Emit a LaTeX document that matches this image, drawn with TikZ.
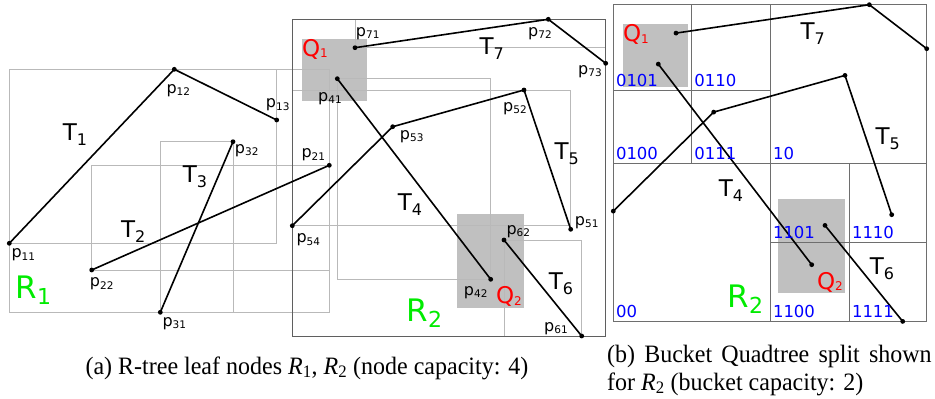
\documentclass[tikz,border=0pt]{standalone}
\usepackage{fontspec}
\setmainfont{Liberation Serif}
\newfontfamily\labfont{DejaVu Sans}
\usetikzlibrary{calc}
\definecolor{mbrgray}{RGB}{185,185,185}
\definecolor{rgray}{RGB}{95,95,95}
\definecolor{gridgray}{RGB}{110,110,110}
\definecolor{qgray}{RGB}{192,192,192}
\definecolor{rgreen}{RGB}{0,235,0}
\definecolor{bitblue}{RGB}{0,0,255}
\definecolor{qred}{RGB}{255,0,0}
\newcommand\Tl[1]{T\raisebox{-5pt}{\fontsize{16}{16}\selectfont #1}}
\newcommand\Pl[1]{p\raisebox{-2.2pt}{\fontsize{10.5}{10.5}\selectfont #1}}
\newcommand\Ql[1]{Q\raisebox{-1.5pt}{\fontsize{12}{12}\selectfont #1}}
\newcommand\Rl[1]{R\raisebox{-6pt}{\fontsize{22}{22}\selectfont #1}}
\newcommand\rtwocoords[1]{%
  \coordinate (#1p41) at (337.3,78.7);
  \coordinate (#1p42) at (490.7,279.3);
  \coordinate (#1p51) at (570.7,229.3);
  \coordinate (#1p52) at (524,90);
  \coordinate (#1p53) at (392.7,126.7);
  \coordinate (#1p54) at (292.3,225.7);
  \coordinate (#1p61) at (581.7,336);
  \coordinate (#1p62) at (504,240);
  \coordinate (#1p71) at (355,47.7);
  \coordinate (#1p72) at (548.3,19.3);
  \coordinate (#1p73) at (605.7,63.3);
  \coordinate (#1ra) at (292.3,19.3);
  \coordinate (#1rb) at (605.7,336);
}
\newcommand\rtwoqboxes[1]{%
  \fill[qgray] (302.3,38.7) rectangle (367,101.3);
  \fill[qgray] (457,214) rectangle (523.7,307.7);
}
\newcommand\rtwotraj[1]{%
  \draw[traj] (#1p41) -- (#1p42);
  \draw[traj] (#1p54) -- (#1p53) -- (#1p52) -- (#1p51);
  \draw[traj] (#1p62) -- (#1p61);
  \draw[traj] (#1p71) -- (#1p72) -- (#1p73);
  \foreach \p in {p41,p42,p51,p52,p53,p54,p61,p62,p71,p72,p73}
    \fill (#1\p) circle (2.4pt);
  \node[tlab] (#1T4) at (410,205) {\Tl{4}};
  \node[tlab] (#1T5) at (566.7,153.3) {\Tl{5}};
  \node[tlab] (#1T6) at (561,283.3) {\Tl{6}};
  \node[tlab] (#1T7) at (491.7,48.3) {\Tl{7}};
  \node[rlab] (#1R2) at (424.3,313.3) {\Rl{2}};
  \node[qlab] (#1Q1) at (315,49.3) {\Ql{1}};
  \node[qlab] (#1Q2) at (509,296.7) {\Ql{2}};
}
\begin{document}
\begin{tikzpicture}[x=1pt,y=-1pt,
  traj/.style={line width=1.6pt, line join=round, line cap=round},
  mbr/.style={draw=mbrgray, line width=0.8pt},
  rbox/.style={draw=rgray, line width=0.9pt},
  qgrid/.style={draw=gridgray, line width=0.9pt},
  tlab/.style={inner sep=0pt, font=\labfont\fontsize{23}{23}\selectfont},
  plab/.style={inner sep=0pt, font=\labfont\fontsize{16}{16}\selectfont},
  rlab/.style={inner sep=0pt, text=rgreen, font=\labfont\fontsize{31}{31}\selectfont},
  qlab/.style={inner sep=0pt, text=qred, font=\labfont\fontsize{23}{23}\selectfont},
  bitlab/.style={inner sep=0pt, anchor=base west, text=bitblue, font=\labfont\fontsize{16.5}{16.5}\selectfont},
  captext/.style={inner sep=0pt, font=\fontsize{25}{28}\selectfont}]
\useasboundingbox (0,0) rectangle (935,399);

% ---------- left: R1 ----------
\coordinate (p11) at (9.3,243.3);
\coordinate (p12) at (174.3,69.3);
\coordinate (p13) at (276.7,120);
\coordinate (p21) at (329.3,165.3);
\coordinate (p22) at (91.7,270);
\coordinate (p31) at (160.3,312.3);
\coordinate (p32) at (233,141.7);
\rtwocoords{}

% query boxes (middle)
\rtwoqboxes{}

% MBRs
\draw[mbr] (p11 |- p12) rectangle (p13 |- p11);
\draw[mbr] (p22 |- p21) rectangle (p21 |- p22);
\draw[mbr] (p31 |- p32) rectangle (p32 |- p31);
\draw[mbr] (p11 |- p12) rectangle (p21 |- p31);
\draw[mbr] (p41) rectangle (p42);
\draw[mbr] (p54 |- p52) rectangle (p51 |- p54);
\draw[mbr] (p62) rectangle (p61);
\draw[mbr] (p71 |- p72) rectangle (p73 |- p71);
\draw[rbox] (ra) rectangle (rb);

% R1 trajectories
\draw[traj] (p11) -- (p12) -- (p13);
\draw[traj] (p22) -- (p21);
\draw[traj] (p31) -- (p32);
\foreach \p in {p11,p12,p13,p21,p22,p31,p32}
  \fill (\p) circle (2.4pt);
\node[tlab] (T1) at (75,135) {\Tl{1}};
\node[tlab] (T2) at (133.3,231.7) {\Tl{2}};
\node[tlab] (T3) at (195,176.7) {\Tl{3}};
\node[rlab] (R1) at (33.3,290) {\Rl{1}};

% R2 trajectories (middle)
\rtwotraj{}

% point labels
\node[plab] (lp11) at (23.3,255) {\Pl{11}};
\node[plab] (lp12) at (178.3,90.7) {\Pl{12}};
\node[plab] (lp13) at (277.7,105) {\Pl{13}};
\node[plab] (lp32) at (246.7,150.7) {\Pl{32}};
\node[plab] (lp22) at (101.7,284) {\Pl{22}};
\node[plab] (lp31) at (174.3,323.3) {\Pl{31}};
\node[plab] (lp21) at (313.3,155) {\Pl{21}};
\node[plab] (lp54) at (308.3,240) {\Pl{54}};
\node[plab] (lp53) at (411.7,136.7) {\Pl{53}};
\node[plab] (lp52) at (515,108.3) {\Pl{52}};
\node[plab] (lp51) at (586.7,222.7) {\Pl{51}};
\node[plab] (lp41) at (330,98.3) {\Pl{41}};
\node[plab] (lp42) at (475.7,292.7) {\Pl{42}};
\node[plab] (lp71) at (367.7,33.3) {\Pl{71}};
\node[plab] (lp72) at (540,33.3) {\Pl{72}};
\node[plab] (lp73) at (590,71.7) {\Pl{73}};
\node[plab] (lp62) at (518.3,231.7) {\Pl{62}};
\node[plab] (lp61) at (556,328.3) {\Pl{61}};

% ---------- right: quadtree ----------
\begin{scope}[shift={(321,-14.6)}]
  \rtwocoords{b}
  \rtwoqboxes{b}
\end{scope}
\coordinate (qmx) at (770.3,163.3);
\coordinate (qtl) at (691.7,90);
\coordinate (qbr) at (849.3,242.7);
\draw[qgrid] (bra) rectangle (brb);
\draw[qgrid] (qmx |- bra) -- (qmx |- brb);
\draw[qgrid] (bra |- qmx) -- (brb |- qmx);
\draw[qgrid] (qtl |- bra) -- (qtl |- qmx);
\draw[qgrid] (bra |- qtl) -- (qmx |- qtl);
\draw[qgrid] (qbr |- qmx) -- (qbr |- brb);
\draw[qgrid] (qmx |- qbr) -- (brb |- qbr);
\begin{scope}[shift={(321,-14.6)}]
  \rtwotraj{b}
\end{scope}
\node[bitlab] (c0101) at (615.8,86) {0101};
\node[bitlab] (c0110) at (694.2,86) {0110};
\node[bitlab] (c0100) at (615.8,159.3) {0100};
\node[bitlab] (c0111) at (694.2,159.3) {0111};
\node[bitlab] (c10) at (772.8,159.3) {10};
\node[bitlab] (c00) at (615.8,317.5) {00};
\node[bitlab] (c1100) at (772.8,317.5) {1100};
\node[bitlab] (c1111) at (851.8,317.5) {1111};
\node[bitlab] (c1101) at (772.8,238.5) {1101};
\node[bitlab] (c1110) at (851.8,238.5) {1110};

% ---------- captions ----------
\node[captext, anchor=base] (capa) at (307,374) {\scalebox{0.96}[1]{(a) R-tree leaf nodes \textit{R}\textsubscript{1}, \textit{R}\textsubscript{2} (node capacity: 4)}};
\node[captext, anchor=base west] (capb1) at (607,362.5) {\scalebox{0.96}[1]{\makebox[338pt][s]{(b) Bucket Quadtree split shown}}};
\node[captext, anchor=base west] (capb2) at (607,390) {\scalebox{0.96}[1]{for \textit{R}\textsubscript{2} (bucket capacity: 2)}};
\end{tikzpicture}
\end{document}
